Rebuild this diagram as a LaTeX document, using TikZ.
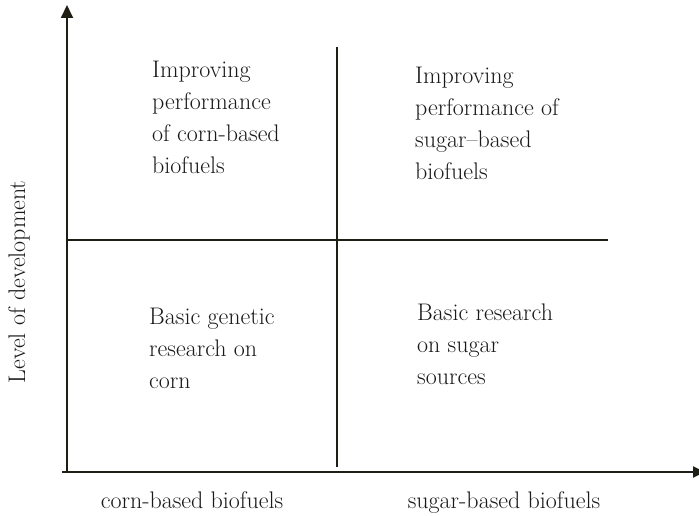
\documentclass[tikz,border=0pt]{standalone}
\usetikzlibrary{arrows.meta}
\definecolor{axisgray}{RGB}{30,30,20}
\definecolor{textgray}{RGB}{25,25,25}
\tikzset{quad/.style={anchor=north west,inner sep=0pt,align=left,
  font=\fontsize{24}{32}\selectfont,text=textgray},
  axislabel/.style={inner sep=0pt,font=\fontsize{24}{32}\selectfont,text=textgray}}
\begin{document}
\begin{tikzpicture}[x=1pt,y=1pt]
\useasboundingbox (0,0) rectangle (699,516);
% axes
\coordinate (O) at (67,44);
\coordinate (ytop) at (67,511);
\coordinate (xstart) at (62,44);
\coordinate (xend) at (705,44);
\draw [axisgray,line width=1.8pt,-{Triangle[width=12pt,length=13pt]}](O)--(ytop);
\draw [axisgray,line width=1.8pt,-{Triangle[width=11pt,length=12pt]}](xstart)--(xend);
% quadrant lines
\coordinate (vtop) at (337,469);
\coordinate (vbot) at (337,49);
\coordinate (hleft) at (67,276);
\coordinate (hright) at (608,276);
\draw [axisgray,line width=1.3pt](vtop)--(vbot) (hleft)--(hright);
\node [quad](tl)at(152,455){Improving\\performance\\of corn-based\\biofuels};
\node [quad](tr)at(415,449){Improving\\performance of\\sugar--based\\biofuels};
\node [quad](bl)at(149,208){Basic genetic\\research on\\corn};
\node [quad](br)at(417,212){Basic research\\on sugar\\sources};
\node [axislabel,anchor=base](xcorn)at(192,7){corn-based biofuels};
\node [axislabel,anchor=base](xsugar)at(504,7){sugar-based biofuels};
\node [axislabel,anchor=base,rotate=90](ylab)at(25,234){Level of development};
\end{tikzpicture}
\end{document}
